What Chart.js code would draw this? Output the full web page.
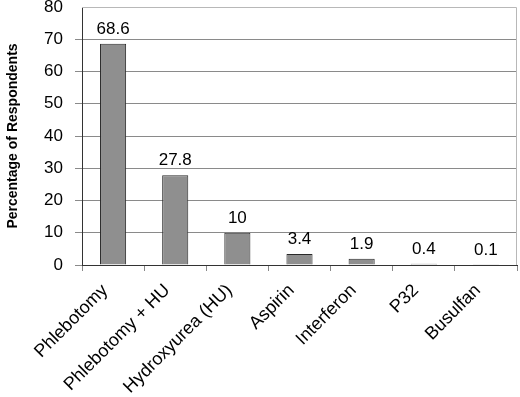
<!DOCTYPE html>
<html><head><meta charset="utf-8">
<script src="https://cdn.jsdelivr.net/npm/chart.js@4/dist/chart.umd.min.js"></script>
<style>html,body{margin:0;padding:0;background:#fff}#wrap{width:520px;height:397px}</style>
</head><body><div id="wrap"><canvas id="c" width="520" height="397"></canvas></div>
<script>
const categories = ["Phlebotomy", "Phlebotomy + HU", "Hydroxyurea (HU)", "Aspirin", "Interferon", "P32", "Busulfan"];
const values = [68.6, 27.8, 10, 3.4, 1.9, 0.4, 0.1];
const valueLabels = ["68.6", "27.8", "10", "3.4", "1.9", "0.4", "0.1"];
const yTicks = [0, 10, 20, 30, 40, 50, 60, 70, 80];
const yTitle = "Percentage of Respondents";

const FONT = "'Liberation Sans', Arial, sans-serif";

const valuePlugin = {
  id: 'vals',
  afterDatasetsDraw(chart) {
    const ctx = chart.ctx;
    const meta = chart.getDatasetMeta(0);
    ctx.save();
    ctx.font = "17px " + FONT;
    ctx.fillStyle = "#000";
    ctx.textAlign = "center";
    ctx.textBaseline = "alphabetic";
    meta.data.forEach((bar, i) => {
      ctx.fillText(valueLabels[i], bar.x, bar.y - 10);
    });
    ctx.restore();
  }
};
const framePlugin = {
  id: 'frame',
  afterDraw(chart) {
    const a = chart.chartArea, ctx = chart.ctx;
    ctx.save();
    ctx.strokeStyle = "#b8b8b8";
    ctx.lineWidth = 1;
    ctx.beginPath();
    ctx.moveTo(a.left, Math.round(a.top) + 0.5);
    ctx.lineTo(Math.round(a.right) - 0.5, Math.round(a.top) + 0.5);
    ctx.lineTo(Math.round(a.right) - 0.5, a.bottom);
    ctx.stroke();
    ctx.restore();
  }
};

new Chart(document.getElementById('c'), {
  type: 'bar',
  data: {
    labels: categories,
    datasets: [{
      data: values,
      backgroundColor: "#8f8f8f",
      borderColor: "#2a2a2a",
      borderWidth: 1,
      categoryPercentage: 0.84,
      barPercentage: 0.5
    }]
  },
  options: {
    responsive: false,
    animation: false,
    events: [],
    layout: { padding: { top: 7, right: 3, left: 5, bottom: 0 } },
    plugins: { legend: { display: false }, tooltip: { enabled: false } },
    scales: {
      x: {
        grid: { display: true, offset: true, drawOnChartArea: false, color: "#888", tickLength: 6 },
        border: { color: "#333" },
        ticks: { color: "#000", font: { family: FONT, size: 18 }, minRotation: 45, maxRotation: 45, padding: 9, labelOffset: -8, autoSkip: false },
        afterFit(s) { s.height = 132; }
      },
      y: {
        min: 0, max: 80,
        afterBuildTicks(s) { s.ticks = yTicks.map(v => ({ value: v })); },
        grid: { color: (c) => (c.tick && c.tick.value === 80) ? "rgba(0,0,0,0)" : "#8a8a8a", tickLength: 7 },
        border: { color: "#333" },
        ticks: { color: "#000", font: { family: FONT, size: 17 }, padding: 12 },
        title: { display: true, text: yTitle, color: "#000", font: { family: FONT, size: 14, weight: 'bold' }, padding: { top: 0, bottom: 0 } },
        afterFit(s) { s.width = 77; s.paddingTop = 0; s.paddingBottom = 0; }
      }
    }
  },
  plugins: [valuePlugin, framePlugin]
});
</script>
</body></html>
